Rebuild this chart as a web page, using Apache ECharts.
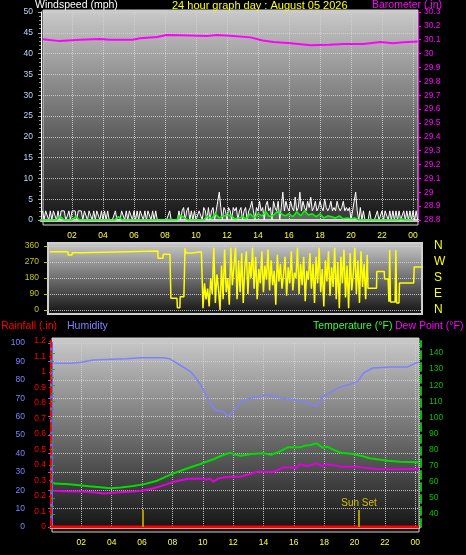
<!DOCTYPE html>
<html><head><meta charset="utf-8">
<script src="https://cdn.jsdelivr.net/npm/echarts@6/dist/echarts.min.js"></script>
<style>html,body{margin:0;padding:0;background:#000;}#c{width:466px;height:555px;}</style>
</head><body><div id="c"></div>
<script>
// ---- tick labels ----
const hourLabels = ['02','04','06','08','10','12','14','16','18','20','22','00'];
const compassLabels = {0:'N', 90:'E', 180:'S', 270:'W', 360:'N'};

// ---- barometer (in) [hour, value] ----
const barometer = [[0.13,30.104],[1.23,30.09],[2.5,30.1],[3.8,30.105],[4.45,30.1],[5.9,30.1],[6.4,30.11],[7.5,30.12],[8.1,30.134],[9.0,30.132],[10.7,30.127],[11.35,30.134],[12.2,30.128],[13.5,30.117],[14.3,30.095],[15.0,30.083],[16.1,30.074],[17.4,30.06],[18.6,30.064],[19.5,30.07],[20.8,30.069],[21.9,30.083],[22.7,30.074],[23.4,30.081],[24.3,30.088]];

// ---- wind gust (mph), one reading every 0.1 h starting 0.1 h ----
const gustStart = 0.1, gustStep = 0.1;
const windGust = [
 2.2,0,2.2,2.2,0,2.2,0,2.2,2.2,0,
 2.2,0,2.2,2.2,2.2,0,1,2.2,0,2.2,
 2.2,2.2,0,2.2,2.2,2.2,0,2.2,2.2,0,
 2.2,2.2,0,2.2,0,2.2,2.2,0,2.2,0,
 2.2,0,2.2,0,0,0,0,2.2,0,0,
 0,2.2,2.2,0,2.2,0,2.2,2.2,0,2.2,
 0,2.2,0,2.2,2.2,0,2.2,0,2.2,2.2,
 0,2.2,0,2.2,0,0,0,0,0,0,
 0,0,2.2,0,0,0,0,0,2.2,0,
 2.2,3,0,2.2,3,0,2.2,0,2.2,0,
 0,2.2,2.2,0,3,2.2,0,3,0,2.2,
 3,0,2.2,4.5,6.7,3,0,3,2.2,0,
 3,2.2,0,3,2.2,3,0,2.2,3,0,
 2.2,3,0,2.2,3,4.5,2.2,0,3,2.2,
 4.5,2.2,3,0,3.5,4.5,2.2,3,0,4.5,
 3,2.2,4.5,0,3,6.7,2.2,4.5,3,2.2,
 4.5,3,2.2,5.5,2.2,3,6.7,2.2,4.5,3,
 2.2,4.5,3,5.5,2.2,3,4.5,2.2,3,4.5,
 3,2.2,5,3,2.2,3,4.5,2.2,3,2.2,
 4.5,3,2.2,3,4.5,2.2,3,2.2,3,0,
 2.2,4.5,6.7,2.2,0,3,0,2.2,0,0,
 0,2.2,0,0,0,0,2.2,0,0,2.2,
 0,2.2,2.2,0,2.2,0,2.2,0,2.2,0,
 2.2,0,0,2.2,0,2.2,0,2.2,0,2.2,
 0,2.2,0];

// ---- average wind (mph), one reading every 0.25 h starting 0 h ----
const avgStart = 0, avgStep = 0.25;
const windAvg = [
 0,0,0,0, 0,0.8,0,0, 0,0.8,0,0, 0,0,0,0, 0,0,0,0, 0.8,0,0,0,
 0,0,0,0, 0,0,0,0, 0,0,0,0, 1.2,0.5,0,0, 0,0,0,1, 0.3,1.5,0.5,1,
 1,1.2,0.3,0.5, 0.8,0.3,1.5,0.5, 1.5,1,2,0.8, 1.2,2,1.5,1, 1.5,0.8,2,1, 2.2,1.2,1.5,0.8,
 1.5,0.5,1,0.8, 0.5,1,0.3,0.5, 0.3,0.5,0,0, 0,0,0,0, 0,0,0,0, 0,0.3,0,0, 0];

// ---- wind direction (deg) ----
const dirSteadyAM = [[0.23,328],[1.39,328],[1.4,309],[1.65,309],[1.66,322],[2.29,322],[2.3,332],[7.19,332],[7.2,291],[7.52,291],[7.53,313],[7.97,313],[8.03,66],[8.42,66],[8.45,13],[8.61,13],[8.63,75],[8.87,75],[8.94,347],[9.0,320],[9.39,320],[9.4,328],[10.0,328]];
const dirVarStart = 10.1, dirVarStep = 0.1;
const dirVariable = [
 10,150,60,120,20,180,90,350,40,200,
 120,0,250,60,340,100,180,30,350,140,
 150,350,60,280,100,320,40,240,330,90,
 270,180,350,120,300,60,230,150,330,100,
 250,170,340,110,280,140,220,30,310,160,
 260,120,200,300,80,240,150,330,110,210,
 180,350,90,260,140,300,50,220,170,320,
 120,260,40,300,150,350,100,230,20,280,
 160,330,80,240,130,350,60,270,10,300,
 150,340,70,250,10,320,110,200,350,90,
 280,40,330,130,260,60,310];
const dirSteadyPM = [[20.75,122],[21.3,122],[21.32,216],[21.8,216],[21.82,174],[22.05,174],[22.1,47],[22.15,337],[22.2,45],[22.5,45],[22.55,337],[22.6,40],[22.75,40],[22.78,152],[23.7,152],[23.73,242],[24.3,242]];

// ---- humidity (%) ----
const humidity = [[0.16,89],[1.3,89],[2.0,89.5],[2.8,90.8],[4.0,91.2],[5.0,91.5],[5.9,92],[7.4,92],[7.8,91.5],[8.1,90],[8.6,87.5],[9.2,84.4],[9.5,81.5],[9.8,78],[10.2,72],[10.5,67.4],[10.8,63.6],[11.1,63],[11.4,62.7],[11.6,60],[11.8,61],[12.0,63],[12.3,65.4],[12.5,68],[13.1,70],[13.7,71],[14.3,71.7],[15.1,70.3],[15.6,69.5],[16.2,69],[16.9,67.4],[17.5,65.4],[17.9,70.8],[18.4,73],[18.9,75.5],[19.5,77],[20.2,79],[20.6,83.7],[21.2,86.4],[22.4,87],[23.5,87],[24.1,89.3],[24.25,89.6]];

// ---- temperature / dew point (F) ----
const temperature = [[0.16,59],[1.0,58.6],[1.7,58],[2.5,57.2],[3.25,56.6],[3.9,56],[4.6,56.4],[5.4,57.4],[6.1,58.4],[7.0,60.7],[7.8,64.2],[8.4,66.3],[9.0,68.4],[9.8,70.9],[10.7,74],[11.3,76.5],[11.8,78],[12.1,77],[12.5,76.2],[13.2,77.3],[14.0,77.7],[14.5,76.8],[15.0,78.5],[15.6,81.4],[16.4,81.4],[16.8,82.5],[17.1,82.9],[17.5,83.9],[17.9,81.2],[18.2,81.8],[18.6,80],[19.1,78],[19.9,77.3],[20.5,76],[21.0,74.6],[21.6,73.8],[22.2,73.1],[23.0,72.5],[24.25,72.1]];
const dewPoint = [[0.16,54.5],[1.0,54.2],[2.1,53.9],[2.8,53.5],[3.5,52.8],[4.2,53.4],[5.4,53.9],[5.9,54.5],[6.5,55.4],[7.0,56.6],[7.6,58.4],[8.1,60],[9.0,61.9],[9.8,62.1],[10.3,61.5],[10.5,62],[10.7,60],[11.0,62],[11.5,62.8],[12.0,63.2],[12.5,63.2],[13.0,64.5],[13.6,66.3],[14.7,66.3],[15.3,69],[16.2,68.8],[16.4,70.9],[16.8,70],[17.1,70.3],[17.5,71.5],[17.8,70],[18.2,70.9],[18.7,70.2],[19.1,69.4],[20.2,69.4],[20.8,68.5],[21.5,68],[22.8,67.8],[24.25,68]];

// ---- rainfall (in) ----
const rainfall = [[0,0],[24.25,0]];

// ---- sun events ----
const sunTimes = [6.07, 20.3];
const sunNames = ['', 'Sun Set'];

// ================= build =================
const series = (start, step, arr) => arr.map((v, i) => [+(start + i * step).toFixed(3), v]);
const gustData = series(gustStart, gustStep, windGust);
const avgData = series(avgStart, avgStep, windAvg);
const dirData = dirSteadyAM.concat(series(dirVarStart, dirVarStep, dirVariable), dirSteadyPM);

const FONT = 'Liberation Sans';
const TFONT = '10.5px "Liberation Sans"';
const bgGrad = {type:'linear', x:0, y:0, x2:0, y2:1, colorStops:[{offset:0,color:'#cacaca'},{offset:0.5,color:'#6e6e6e'},{offset:1,color:'#111111'}]};
const dotted = {show:true, lineStyle:{type:'dotted', color:'#d4d4d4', width:1, opacity:0.85}};
const hourFmt = v => {
  if (v === 0 || Math.abs(v - Math.round(v)) > 1e-6) return '';
  const i = Math.round(v) / 2 - 1;
  return hourLabels[i] || '';
};
const dec1 = v => String(+(+v).toFixed(1));
const hidden = (g, extra) => Object.assign({type:'value', gridIndex:g, show:false}, extra || {});

const chart = echarts.init(document.getElementById('c'), null, {renderer:'canvas'});
chart.setOption({
  backgroundColor:'#000000',
  animation:false,
  textStyle:{fontFamily:FONT},
  grid:[
    {left:43, top:10, width:375, height:215, show:true, backgroundColor:bgGrad, borderColor:'#cfcfcf', borderWidth:1},
    {left:48, top:243, width:374, height:71, show:true, backgroundColor:bgGrad, borderColor:'#cfcfcf', borderWidth:2},
    {left:52, top:338, width:367, height:194, show:true, backgroundColor:bgGrad, borderColor:'#cfcfcf', borderWidth:1},
    {left:41, top:12, width:377, height:208},
    {left:48, top:246, width:375, height:64},
    {left:51, top:343, width:368, height:184},
    {left:51, top:341, width:368, height:186},
    {left:51, top:353, width:368, height:161}
  ],
  xAxis:[
    hidden(0,{min:0,max:1}), hidden(1,{min:0,max:1}), hidden(2,{min:0,max:1}),
    {type:'value', gridIndex:3, min:0, max:24.32, interval:2, offset:3,
      axisLine:{show:true, lineStyle:{color:'#c8c8c8', width:3}}, axisTick:{show:false},
      axisLabel:{color:'#ffff33', fontSize:8.5, margin:8, formatter:hourFmt}, splitLine:dotted},
    hidden(4,{min:0.1, max:24.3}),
    {type:'value', gridIndex:5, min:0, max:24.25, interval:2, offset:3,
      axisLine:{show:true, lineStyle:{color:'#c8c8c8', width:3}}, axisTick:{show:false},
      axisLabel:{color:'#ffff33', fontSize:8.5, margin:8, formatter:hourFmt}, splitLine:dotted},
    hidden(6,{min:0, max:24.25}),
    hidden(7,{min:0, max:24.25})
  ],
  yAxis:[
    hidden(0,{min:0,max:1}), hidden(1,{min:0,max:1}), hidden(2,{min:0,max:1}),
    {type:'value', gridIndex:3, position:'left', min:0, max:50, interval:5,
      axisLine:{show:true, lineStyle:{color:'#ffffff', width:1}},
      axisTick:{show:true, length:3, lineStyle:{color:'#a0a0a0'}},
      minorTick:{show:true, splitNumber:5, length:2, lineStyle:{color:'#8a8a8a'}},
      axisLabel:{color:'#b8d8ff', fontSize:8.5, margin:8}, splitLine:dotted},
    {type:'value', gridIndex:3, position:'right', min:28.8, max:30.3, interval:0.1,
      axisLine:{show:true, lineStyle:{color:'#ff00ff', width:1}},
      axisTick:{show:true, length:3, lineStyle:{color:'#ff00ff'}},
      axisLabel:{color:'#ff00ff', fontSize:8.5, margin:6, formatter:dec1}, splitLine:{show:false}},
    {type:'value', gridIndex:4, position:'left', min:0, max:360, interval:90,
      axisLine:{show:false}, axisTick:{show:true, length:4, lineStyle:{color:'#c8c800'}},
      axisLabel:{color:'#c8c800', fontSize:8.5, margin:9}, splitLine:dotted},
    {type:'value', gridIndex:4, position:'right', min:0, max:360, interval:90,
      axisLine:{show:false}, axisTick:{show:false},
      axisLabel:{color:'#ffff00', fontSize:12, margin:11, formatter:v => compassLabels[Math.round(v)] || ''}, splitLine:{show:false}},
    {type:'value', gridIndex:5, position:'left', offset:21, min:0, max:100, interval:10,
      axisLine:{show:true, lineStyle:{color:'#6464ff', width:3}},
      axisTick:{show:true, length:3, lineStyle:{color:'#6464ff'}},
      axisLabel:{color:'#8080ff', fontSize:8.5, margin:5}, splitLine:dotted},
    {type:'value', gridIndex:6, position:'left', min:0, max:1.2, interval:0.1,
      axisLine:{show:true, lineStyle:{color:'#ff0000', width:2, type:'dashed'}},
      axisTick:{show:true, length:2, lineStyle:{color:'#ff0000'}},
      axisLabel:{color:'#ff0000', fontSize:8.5, margin:5, formatter:dec1}, splitLine:{show:false}},
    {type:'value', gridIndex:7, position:'right', offset:2, min:40, max:140, interval:10,
      axisLine:{show:false},
      axisTick:{show:true, length:4, lineStyle:{color:'#00c000'}},
      minorTick:{show:true, splitNumber:2, length:3, lineStyle:{color:'#00c000'}},
      axisLabel:{color:'#00c000', fontSize:8.5, margin:8}, splitLine:{show:false}},
    {type:'value', gridIndex:6, position:'right', offset:2, min:0, max:1,
      axisLine:{show:true, lineStyle:{color:'#00c000', width:2, type:'dashed'}},
      axisTick:{show:false}, axisLabel:{show:false}, splitLine:{show:false}}
  ],
  series:[
    {name:'Barometer', type:'line', xAxisIndex:3, yAxisIndex:4, data:barometer, showSymbol:false, lineStyle:{color:'#ff00ff', width:2}, z:5},
    {name:'Wind Gust', type:'line', xAxisIndex:3, yAxisIndex:3, data:gustData, showSymbol:false, lineStyle:{color:'#ffffff', width:1}, areaStyle:{color:'rgba(255,255,255,0.22)'}, z:3},
    {name:'Wind Avg', type:'line', xAxisIndex:3, yAxisIndex:3, data:avgData, showSymbol:false, lineStyle:{color:'#00ff00', width:1.5}, areaStyle:{color:'rgba(200,255,200,0.35)'}, z:4},
    {name:'Wind Dir', type:'line', xAxisIndex:4, yAxisIndex:5, data:dirData, showSymbol:false, lineStyle:{color:'#ffff00', width:1.5}, z:3},
    {name:'Humidity', type:'line', xAxisIndex:5, yAxisIndex:7, data:humidity, showSymbol:false, lineStyle:{color:'#8080ff', width:1.5}, z:3},
    {name:'Rainfall', type:'line', xAxisIndex:6, yAxisIndex:8, data:rainfall, showSymbol:false, lineStyle:{color:'#ff0000', width:3}, z:4,
      markLine:{symbol:'none', silent:true, lineStyle:{color:'#a89a00', width:2, type:'solid'},
        label:{show:true, position:'end', distance:2, color:'#d0c000', fontSize:10, fontFamily:FONT, formatter:p => p.name},
        data: sunTimes.map((t, i) => [{coord:[t, 0], name:sunNames[i]}, {coord:[t, 0.11]}])}},
    {name:'Temperature', type:'line', xAxisIndex:7, yAxisIndex:9, data:temperature, showSymbol:false, lineStyle:{color:'#00dd00', width:2}, z:4},
    {name:'Dew Point', type:'line', xAxisIndex:7, yAxisIndex:9, data:dewPoint, showSymbol:false, lineStyle:{color:'#e000e0', width:2}, z:4}
  ],
  graphic:[
    {type:'text', x:35, y:0, style:{text:'Windspeed (mph)', fill:'#ffffff', font:TFONT}},
    {type:'text', x:172, y:0, style:{text:'24 hour graph day : August 05 2026', fill:'#ffff00', font:'11px "Liberation Sans"'}},
    {type:'text', x:372, y:0, style:{text:'Barometer (.in)', fill:'#ff00ff', font:TFONT}},
    {type:'text', x:1, y:321, style:{text:'Rainfall (.in)', fill:'#ff0000', font:TFONT}},
    {type:'text', x:67, y:321, style:{text:'Humidity', fill:'#8080ff', font:TFONT}},
    {type:'text', x:313, y:321, style:{text:'Temperature (°F)', fill:'#33ff33', font:TFONT}},
    {type:'text', x:395, y:321, style:{text:'Dew Point (°F)', fill:'#ff00ff', font:TFONT}}
  ]
});
</script>
</body></html>
